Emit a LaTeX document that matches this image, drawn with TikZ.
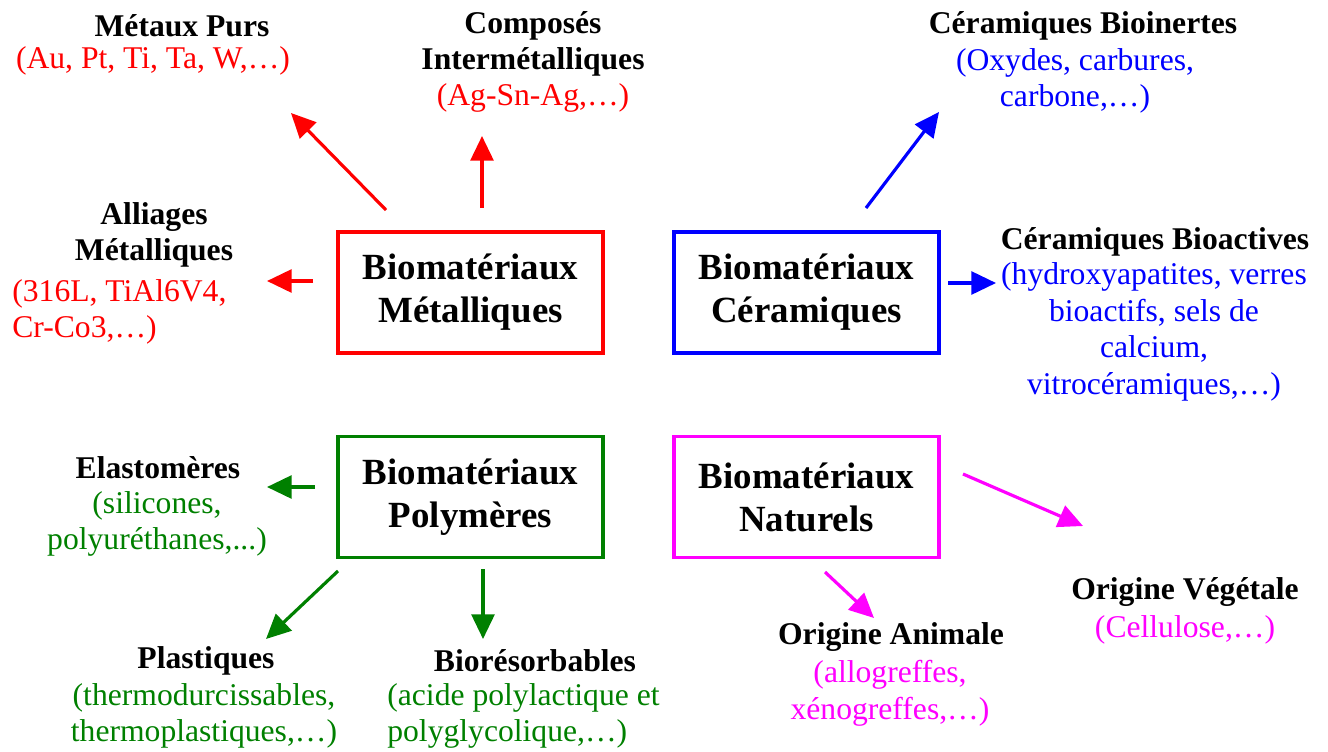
\documentclass[tikz,border=0pt]{standalone}
\usepackage{fontspec}
\setmainfont{Liberation Serif}
\usetikzlibrary{arrows.meta,positioning}
\definecolor{vert}{rgb}{0,0.5,0}
\definecolor{rose}{rgb}{1,0,1}

\begin{document}
\begin{tikzpicture}[x=0.02cm,y=-0.02cm,
	bio/.style={draw,line width=2pt,minimum width=5.3cm,minimum height=2.42cm,align=center,font=\fontsize{21}{24.4}\selectfont\bfseries},
	titre/.style={align=center,inner sep=0pt,font=\fontsize{18}{20.8}\selectfont\bfseries},
	ex/.style={align=center,inner sep=0pt,font=\fontsize{18}{20.8}\selectfont},
	fl/.style={line width=1.8pt,-{Triangle[length=14pt,width=13pt]}}]
	\useasboundingbox (0,0) rectangle (1328,751);
	\node[bio,draw=red] (metal) at (470.5,292.5) {Biomatériaux\\Métalliques};
	\node[bio,draw=blue] (ceram) at (806.5,292.5) {Biomatériaux\\Céramiques};
	\node[bio,draw=vert] (poly) at (470.5,497) {Biomatériaux\\Polymères};
	\node[bio,draw=rose] (natur) at (806.5,497) {Biomatériaux\\Naturels};
	\node[titre] (purs) at (182,26) {Métaux Purs};
	\node[ex,red] (purs-ex) at (153,61) {(Au, Pt, Ti, Ta, W,…)};
	\node[titre] (inter) at (533,44) {Composés\\Intermétalliques};
	\node[ex,red] (inter-ex) at (533,98) {(Ag-Sn-Ag,…)};
	\node[titre] (allia) at (154,235) {Alliages\\Métalliques};
	\node[ex,red,anchor=west,align=left] (allia-ex) at (12,312) {(316L, TiAl6V4,\\Cr-Co3,…)};
	\node[titre] (inerte) at (1083,26) {Céramiques Bioinertes};
	\node[ex,blue] (inerte-ex) at (1075,81) {(Oxydes, carbures,\\carbone,…)};
	\node[titre] (active) at (1155,242) {Céramiques Bioactives};
	\node[ex,blue] (active-ex) at (1154,332) {(hydroxyapatites, verres\\bioactifs, sels de\\calcium,\\vitrocéramiques,…)};
	\node[titre] (elast) at (158,468) {Elastomères};
	\node[ex,vert] (elast-ex) at (157,524) {(silicones,\\polyuréthanes,...)};
	\node[titre] (plast) at (206,661) {Plastiques};
	\node[ex,vert] (plast-ex) at (204,716) {(thermodurcissables,\\thermoplastiques,…)};
	\node[titre] (resorb) at (535,661) {Biorésorbables};
	\node[ex,vert,anchor=west,align=left] (resorb-ex) at (387,716) {(acide polylactique et\\polyglycolique,…)};
	\node[titre] (animal) at (891,637) {Origine Animale};
	\node[ex,rose] (animal-ex) at (890,693) {(allogreffes,\\xénogreffes,…)};
	\node[titre] (vegetal) at (1185,592) {Origine Végétale};
	\node[ex,rose] (vegetal-ex) at (1185,630) {(Cellulose,…)};
	\coordinate (m1) at (386,210); \coordinate (m1b) at (291,113);
	\coordinate (m2) at (482,208); \coordinate (m2b) at (482,136);
	\coordinate (m3) at (313,281); \coordinate (m3b) at (267,281);
	\coordinate (c1) at (866,208); \coordinate (c1b) at (939,112);
	\coordinate (c2) at (948,283); \coordinate (c2b) at (996,283);
	\coordinate (p1) at (315,487); \coordinate (p1b) at (267,487);
	\coordinate (p2) at (338,571); \coordinate (p2b) at (266,639);
	\coordinate (p3) at (483,569); \coordinate (p3b) at (483,639);
	\coordinate (n1) at (963,474); \coordinate (n1b) at (1083,526);
	\coordinate (n2) at (825,572); \coordinate (n2b) at (874,618);
\path[fl]
	(m1) edge[red] (m1b)
	(m2) edge[red] (m2b)
	(m3) edge[red] (m3b)
	(c1) edge[blue] (c1b)
	(c2) edge[blue] (c2b)
	(p1) edge[vert] (p1b)
	(p2) edge[vert] (p2b)
	(p3) edge[vert] (p3b)
	(n1) edge[rose] (n1b)
	(n2) edge[rose] (n2b);
\end{tikzpicture}
\end{document}
